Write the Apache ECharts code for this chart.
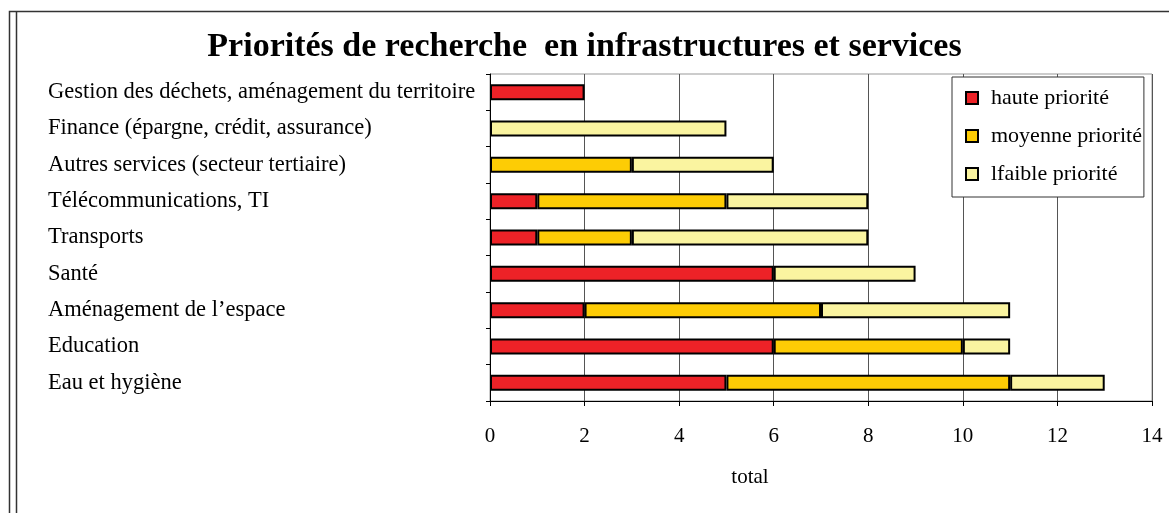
<!DOCTYPE html>
<html>
<head>
<meta charset="utf-8">
<script src="https://cdn.jsdelivr.net/npm/echarts@6/dist/echarts.min.js"></script>
<style>
  html, body { margin: 0; padding: 0; background: #fff; }
  #chart { width: 1169px; height: 513px; }
</style>
</head>
<body>
<div id="chart"></div>
<script>
// categories listed bottom -> top (as ECharts draws a y category axis)
const categories = [
  'Eau et hygiène',
  'Education',
  'Aménagement de l’espace',
  'Santé',
  'Transports',
  'Télécommunications, TI',
  'Autres services (secteur tertiaire)',
  'Finance (épargne, crédit, assurance)',
  'Gestion des déchets, aménagement du territoire'
];
const haute = [5, 6, 2, 6, 1, 1, 0, 0, 2];
const moyenne = [6, 4, 5, 0, 2, 4, 3, 0, 0];
const faible = [2, 1, 4, 3, 5, 3, 3, 5, 0];
const seriesNames = ['haute priorité', 'moyenne priorité', 'lfaible priorité'];
const xTicks = { min: 0, max: 14, interval: 2 };

const font = 'Liberation Serif, Times New Roman, serif';
const colors = ['#ED2227', '#FDCC05', '#FAF4A0'];

const chart = echarts.init(document.getElementById('chart'));

function bar(name, values, color) {
  return {
    name,
    type: 'bar',
    stack: 'total',
    barWidth: 16,
    // zero-length segments would still draw a border, so skip them
    data: values.map(v => (v === 0 ? '-' : v)),
    itemStyle: { color, borderColor: '#000', borderWidth: 2 },
    emphasis: { disabled: true }
  };
}

const option = {
  animation: false,
  backgroundColor: '#fff',
  title: {
    text: 'Priorités de recherche  en infrastructures et services',
    left: 'center',
    top: 25,
    textStyle: { fontFamily: font, fontSize: 34, fontWeight: 'bold', color: '#000' }
  },
  legend: {
    orient: 'vertical',
    left: 952,
    top: 77,
    padding: [9, 2, 11, 13],
    itemGap: 14,
    itemWidth: 12,
    itemHeight: 12,
    icon: 'rect',
    backgroundColor: '#fff',
    borderColor: '#333',
    borderWidth: 1,
    textStyle: { fontFamily: font, fontSize: 22, color: '#000', lineHeight: 24, padding: [0, 0, 0, 8] },
    data: seriesNames
  },
  grid: {
    left: 490,
    right: 17,
    top: 74,
    bottom: 112,
    show: true,
    borderColor: '#999',
    borderWidth: 1,
    outerBoundsMode: 'none',
    containLabel: false
  },
  xAxis: {
    type: 'value',
    min: xTicks.min,
    max: xTicks.max,
    interval: xTicks.interval,
    name: 'total',
    nameLocation: 'middle',
    nameGap: 66,
    nameTextStyle: { fontFamily: font, fontSize: 21, color: '#000', padding: [0, 142, 0, 0] },
    axisLine: { show: true, lineStyle: { color: '#000', width: 1 } },
    axisTick: { show: true, length: 5, lineStyle: { color: '#000' } },
    axisLabel: { fontFamily: font, fontSize: 21, color: '#000', margin: 25 },
    splitLine: { show: true, lineStyle: { color: '#555', width: 1 } }
  },
  yAxis: {
    type: 'category',
    data: categories,
    axisLine: { show: true, lineStyle: { color: '#000', width: 1 } },
    axisTick: { show: true, length: 4, lineStyle: { color: '#000' } },
    axisLabel: { fontFamily: font, fontSize: 22.5, color: '#000', align: 'left', margin: 442 },
    splitLine: { show: false }
  },
  graphic: [
    {
      type: 'polyline',
      shape: { points: [[9.5, 513], [9.5, 11.5], [1169, 11.5]] },
      style: { stroke: '#333', lineWidth: 1.5, fill: null }
    },
    {
      type: 'line',
      shape: { x1: 16.5, y1: 12, x2: 16.5, y2: 513 },
      style: { stroke: '#333', lineWidth: 1.5 }
    }
  ],
  series: [
    bar(seriesNames[0], haute, colors[0]),
    bar(seriesNames[1], moyenne, colors[1]),
    bar(seriesNames[2], faible, colors[2])
  ]
};

chart.setOption(option);
</script>
</body>
</html>
